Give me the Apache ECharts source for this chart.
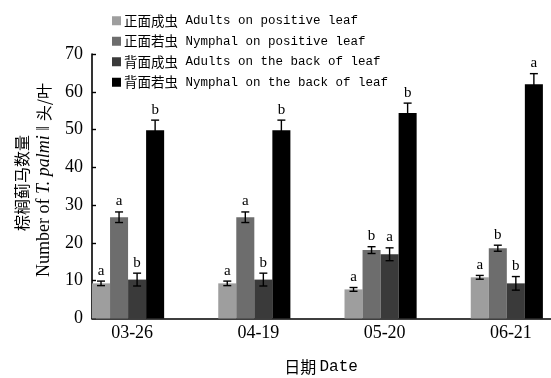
<!DOCTYPE html>
<html><head><meta charset="utf-8">
<script src="https://cdn.jsdelivr.net/npm/echarts@6/dist/echarts.min.js"></script>
<style>html,body{margin:0;padding:0;background:#fff;overflow:hidden}#c{width:600px;height:378px}</style>
</head><body><div id="c"></div>
<script>
const categories = ['03-26', '04-19', '05-20', '06-21'];
const seriesNames = ['正面成虫', '正面若虫', '背面成虫', '背面若虫'];
const seriesEnglish = ['Adults on positive leaf', 'Nymphal on positive leaf', 'Adults on the back of leaf', 'Nymphal on the back of leaf'];
const adultsPositive = [9.3, 9.3, 7.7, 10.9];
const nymphPositive = [26.8, 26.8, 18.1, 18.6];
const adultsBack = [10.3, 10.3, 17.0, 9.3];
const nymphBack = [49.8, 49.8, 54.4, 62.0];
const errAdultsPositive = [0.6, 0.6, 0.5, 0.5];
const errNymphPositive = [1.4, 1.4, 0.9, 0.8];
const errAdultsBack = [1.7, 1.7, 1.7, 1.8];
const errNymphBack = [2.7, 2.7, 2.6, 2.8];
const lettersAdultsPositive = ['a', 'a', 'a', 'a'];
const lettersNymphPositive = ['a', 'a', 'b', 'b'];
const lettersAdultsBack = ['b', 'b', 'a', 'b'];
const lettersNymphBack = ['b', 'b', 'b', 'a'];
const yTicks = [0, 10, 20, 30, 40, 50, 60, 70];

const values = [adultsPositive, nymphPositive, adultsBack, nymphBack];
const errs = [errAdultsPositive, errNymphPositive, errAdultsBack, errNymphBack];
const letters = [lettersAdultsPositive, lettersNymphPositive, lettersAdultsBack, lettersNymphBack];
const colors = ['#9e9e9e', '#6d6d6d', '#3a3a3a', '#000000'];
const SLOTS = 7;
const serif = '"Liberation Serif", "Noto Sans CJK SC", serif';

const chart = echarts.init(document.getElementById('c'), null, {renderer: 'canvas'});

const series = [];
values.forEach((v, i) => {
  series.push({
    name: seriesNames[i] + ' ' + seriesEnglish[i],
    type: 'bar',
    data: v,
    itemStyle: {color: colors[i]},
    barGap: '0%',
    barCategoryGap: '0%',
    silent: true
  });
});
for (let k = 0; k < SLOTS - 4; k++) {
  series.push({name: '_pad' + k, type: 'bar', data: categories.map(() => 0), itemStyle: {color: 'transparent'}, barGap: '0%', barCategoryGap: '0%', silent: true});
}
values.forEach((v, si) => {
  series.push({
    type: 'custom',
    z: 10,
    silent: true,
    data: v.map((val, j) => [j, val, errs[si][j]]),
    encode: {x: 0, y: 1},
    renderItem: function (params, api) {
      const idx = api.value(0), val = api.value(1), e = api.value(2);
      const c = api.coord([idx, val]);
      const band = api.size([1, 0])[0];
      const x = c[0] - band / 2 + (si + 0.5) * band / SLOTS;
      const top = api.coord([idx, val + e])[1];
      const bot = api.coord([idx, val - e])[1];
      const hw = 4;
      const st = {stroke: '#000', lineWidth: 1.4};
      return {
        type: 'group',
        children: [
          {type: 'line', shape: {x1: x, y1: top, x2: x, y2: bot}, style: st},
          {type: 'line', shape: {x1: x - hw, y1: top, x2: x + hw, y2: top}, style: st},
          {type: 'line', shape: {x1: x - hw, y1: bot, x2: x + hw, y2: bot}, style: st},
          {type: 'text', style: {text: letters[si][params.dataIndex], x: x, y: top - 3, textAlign: 'center', textVerticalAlign: 'bottom', font: '15px ' + serif, fill: '#000'}}
        ]
      };
    }
  });
});

const option = {
  animation: false,
  backgroundColor: '#fff',
  grid: {left: 92, top: 54, bottom: 59.5, right: 3, containLabel: false},
  legend: {
    data: seriesNames.map((n, i) => n + ' ' + seriesEnglish[i]),
    orient: 'vertical',
    left: 112, top: 14,
    padding: 0,
    itemWidth: 9, itemHeight: 9, itemGap: 7,
    icon: 'rect',
    formatter: function (name) {
      const sp = name.indexOf(' ');
      return '{c|' + name.slice(0, sp) + '}{e|' + name.slice(sp) + '}';
    },
    textStyle: {
      color: '#000',
      padding: [0, 0, 0, -2],
      rich: {
        c: {fontFamily: '"Noto Sans CJK SC", sans-serif', fontSize: 13.5, lineHeight: 14, color: '#000'},
        e: {fontFamily: '"Liberation Mono", monospace', fontSize: 12.5, lineHeight: 14, color: '#000'}
      }
    }
  },
  xAxis: {
    type: 'category',
    data: categories,
    axisLine: {lineStyle: {color: '#000', width: 1.6}},
    axisTick: {show: false},
    axisLabel: {color: '#000', fontFamily: serif, fontSize: 18, margin: 6, padding: [0, 46, 0, 0]}
  },
  yAxis: {
    type: 'value',
    min: yTicks[0], max: yTicks[yTicks.length - 1], interval: 10,
    axisLine: {show: true, lineStyle: {color: '#000', width: 1.6}},
    axisTick: {show: true, inside: true, length: 4, lineStyle: {color: '#000', width: 1.4}},
    splitLine: {show: false},
    axisLabel: {color: '#000', fontFamily: serif, fontSize: 18, margin: 9}
  },
  graphic: [
    {type: 'text', x: 22, y: 183, rotation: Math.PI / 2, silent: true,
      style: {text: '棕榈蓟马数量', font: '16px "Noto Sans CJK SC", sans-serif', fill: '#000', textAlign: 'center', textVerticalAlign: 'middle'}},
    {type: 'text', x: 44, y: 180, rotation: Math.PI / 2, silent: true,
      style: {
        text: '{n|Number of }{i|T. palmi}{n| ‖ }{c|头/叶}',
        textAlign: 'center', textVerticalAlign: 'middle',
        rich: {
          n: {fontFamily: serif, fontSize: 18, color: '#000'},
          i: {fontFamily: serif, fontSize: 18, fontStyle: 'italic', color: '#000'},
          c: {fontFamily: '"Noto Sans CJK SC", sans-serif', fontSize: 16, color: '#000'}
        }
      }},
    {type: 'text', x: 321, y: 367, silent: true,
      style: {text: '{c|日期} {n|Date}', textAlign: 'center', textVerticalAlign: 'middle',
        rich: {
          c: {fontFamily: '"Noto Sans CJK SC", sans-serif', fontSize: 16, color: '#000'},
          n: {fontFamily: '"Liberation Mono", monospace', fontSize: 16, color: '#000'}
        }}}
  ],
  series: series
};
chart.setOption(option);
</script>
</body></html>
